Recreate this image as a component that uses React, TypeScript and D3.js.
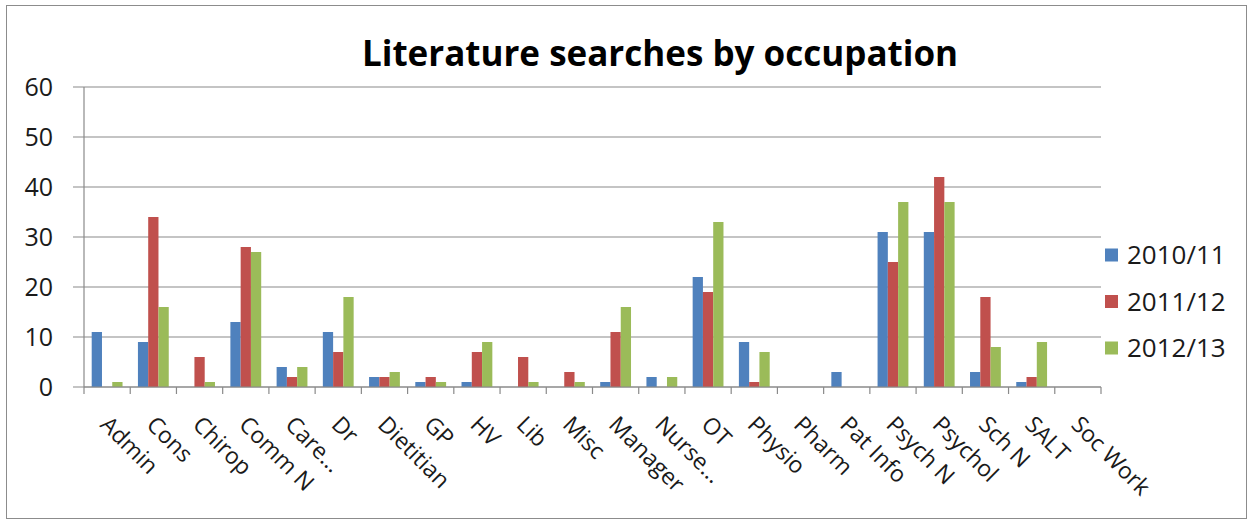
import React from "react";
import * as d3 from "d3";

const categories = ["Admin","Cons","Chirop","Comm N","Care...","Dr","Dietitian","GP","HV","Lib","Misc","Manager","Nurse...","OT","Physio","Pharm","Pat Info","Psych N","Psychol","Sch N","SALT","Soc Work"];
const seriesNames = ["2010/11","2011/12","2012/13"];
const s2010 = [11,9,0,13,4,11,2,1,1,0,0,1,2,22,9,0,3,31,31,3,1,0];
const s2011 = [0,34,6,28,2,7,2,2,7,6,3,11,0,19,1,0,0,25,42,18,2,0];
const s2012 = [1,16,1,27,4,18,3,1,9,1,1,16,2,33,7,0,0,37,37,8,9,0];
const yTicks = [0,10,20,30,40,50,60];
const colors = ["#4F81BD","#C0504D","#9BBB59"];

export default function App() {
  const W = 1253, H = 524;
  const left = 84, right = 1101, top = 87, bottom = 387;
  const x = d3.scaleBand<string>().domain(categories).range([left, right]).paddingInner(0).paddingOuter(0);
  const y = d3.scaleLinear().domain([0, 60]).range([bottom, top]);
  const bw = x.bandwidth() / 4.5;
  const xs = d3.scaleBand<string>().domain(seriesNames).range([0, bw * 3]);
  const data = [s2010, s2011, s2012];
  const font = "'Open Sans', sans-serif";
  return (
    <svg width={W} height={H} style={{ position: "absolute", left: 0, top: 0, background: "#fff" }}>
      <rect x={6.5} y={5.5} width={W - 13} height={H - 11} fill="#fff" stroke="#8c8c8c" strokeWidth={1} />
      <text x={660} y={66} textAnchor="middle" fontFamily={font} fontWeight="bold" fontSize={35} fill="#000">Literature searches by occupation</text>
      {yTicks.map(t => (
        <g key={t}>
          <line x1={left - 11} x2={right} y1={y(t)} y2={y(t)} stroke="#8a8a8a" strokeWidth={1.2} />
          <text x={left - 31} y={y(t)} dy="0.36em" textAnchor="end" fontFamily={font} fontSize={25} fill="#1a1a1a">{t}</text>
        </g>
      ))}
      <line x1={left} x2={left} y1={top} y2={bottom} stroke="#8a8a8a" strokeWidth={1.2} />
      {categories.map((c, i) => (
        <g key={c}>
          {data.map((s, k) => (
            s[i] > 0 ? <rect key={k} x={x(c)! + (x.bandwidth() - bw * 3) / 2 + xs(seriesNames[k])!} y={y(s[i])} width={bw} height={bottom - y(s[i])} fill={colors[k]} /> : null
          ))}
        </g>
      ))}
      <line x1={left} x2={right} y1={bottom} y2={bottom} stroke="#8a8a8a" strokeWidth={1.2} />
      {categories.concat([""]).map((c, i) => {
        const tx = left + i * x.bandwidth();
        return <line key={"t" + i} x1={tx} x2={tx} y1={bottom} y2={bottom + 7} stroke="#8a8a8a" strokeWidth={1.2} />;
      })}
      {categories.map(c => {
        const cx = x(c)! + x.bandwidth() / 2 - 8;
        const cy = bottom + 39;
        return (
          <text key={"l" + c} x={cx} y={cy} transform={`rotate(45 ${cx} ${cy})`} textAnchor="start" fontFamily={font} fontSize={23} fill="#1a1a1a">{c}</text>
        );
      })}
      {seriesNames.map((n, k) => {
        const ly = 255 + k * 46.5;
        return (
          <g key={n}>
            <rect x={1105} y={ly - 6.5} width={13} height={13} fill={colors[k]} />
            <text x={1127} y={ly} dy="0.36em" fontFamily={font} fontSize={26} fill="#1a1a1a">{n}</text>
          </g>
        );
      })}
    </svg>
  );
}
